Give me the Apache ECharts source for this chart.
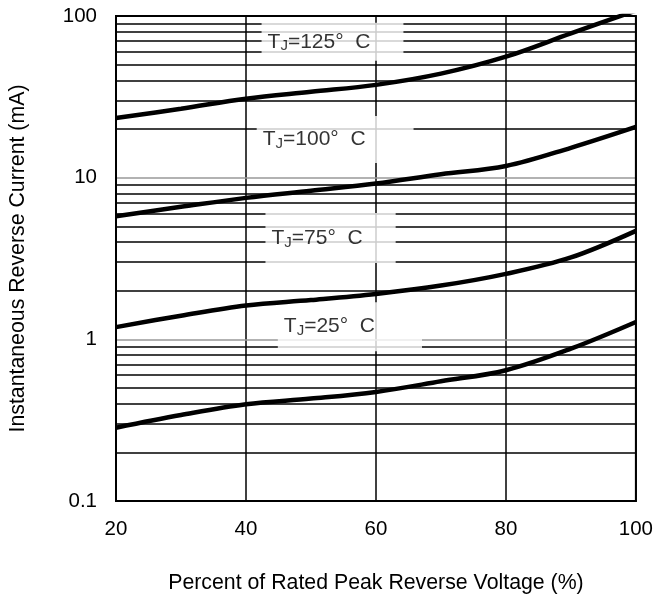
<!DOCTYPE html>
<html>
<head>
<meta charset="utf-8">
<script src="https://cdn.jsdelivr.net/npm/echarts@6/dist/echarts.min.js"></script>
<style>
html,body{margin:0;padding:0;background:#fff;}
#chart{width:656px;height:599px;}
</style>
</head>
<body>
<div id="chart"></div>
<script>
// ---- data ----
const voltagePct = [20, 30, 40, 50, 60, 70, 80, 90, 100];
const current125 = [23.4, 26.7, 30.8, 34.0, 37.5, 44, 56, 78, 108];
const current100 = [5.78, 6.6, 7.5, 8.3, 9.2, 10.5, 11.8, 15.3, 20.6];
const current75  = [1.19, 1.40, 1.62, 1.75, 1.91, 2.15, 2.54, 3.21, 4.69];
const current25  = [0.284, 0.34, 0.397, 0.43, 0.473, 0.55, 0.644, 0.875, 1.28];
const xTicks = [20, 40, 60, 80, 100];
const yTicks = [0.1, 1, 10, 100];
const minorGrid = [0.2,0.3,0.4,0.5,0.6,0.7,0.8,0.9, 2,3,4,5,6,7,8,9, 20,30,40,50,60,70,80,90];
const grayGrid = [1, 10];
const tempLabels = ['125', '100', '75', '25'];
const labelAnchorX = [42.4, 41.65, 43.0, 44.9];
const labelAnchorY = [69.2, 17.2, 4.23, 1.196];
const labelPadding = [[7,33,7,6],[11,48,12,6],[13,33,13,6],[12,47,13,6]];

const FONT = 'Liberation Sans, Arial, sans-serif';
const chart = echarts.init(document.getElementById('chart'));

function curve(name, vals) {
  return {
    name: name, type: 'line', z: 5, smooth: 0.35, showSymbol: false, clip: true,
    lineStyle: { color: '#000', width: 4.5 },
    data: voltagePct.map((x, i) => [x, vals[i]])
  };
}

const labelData = tempLabels.map((t, i) => ({
  value: [labelAnchorX[i], labelAnchorY[i]],
  label: {
    show: true, position: [0, 0], align: 'left', verticalAlign: 'middle',
    backgroundColor: '#fff', padding: labelPadding[i],
    formatter: '{t|T}{j|J}{t|=' + t + '\u00b0  C}',
    rich: {
      t: { fontFamily: FONT, fontSize: 21, color: '#000', lineHeight: 24 },
      j: { fontFamily: FONT, fontSize: 15, color: '#000', lineHeight: 24, verticalAlign: 'bottom' }
    }
  }
}));

chart.setOption({
  animation: false,
  backgroundColor: '#fff',
  grid: { left: 116, right: 19, top: 16, bottom: 96, show: true, borderColor: '#000', borderWidth: 2, backgroundColor: 'transparent', z: 10 },
  xAxis: {
    type: 'value', min: 20, max: 100, interval: 20,
    name: 'Percent of Rated Peak Reverse Voltage (%)', nameLocation: 'middle', nameGap: 72,
    nameTextStyle: { fontFamily: FONT, fontSize: 21.3, color: '#000' },
    axisLine: { show: true, lineStyle: { color: '#000', width: 2 } },
    axisTick: { show: false },
    axisLabel: { fontFamily: FONT, fontSize: 20.5, color: '#000', margin: 18 },
    splitLine: { show: true, lineStyle: { color: '#000', width: 1.5 } }
  },
  yAxis: {
    type: 'log', logBase: 10, min: 0.1, max: 100,
    name: 'Instantaneous Reverse Current (mA)', nameLocation: 'middle', nameGap: 87,
    nameTextStyle: { fontFamily: FONT, fontSize: 21.3, color: '#000' },
    axisLine: { show: true, lineStyle: { color: '#000', width: 2 } },
    axisTick: { show: false },
    axisLabel: { fontFamily: FONT, fontSize: 20.5, color: '#000', margin: 19,
      formatter: v => String(parseFloat(v.toPrecision(3))) },
    splitLine: { show: false }
  },
  series: [
    {
      name: 'grid', type: 'line', z: 1, data: [], silent: true,
      markLine: {
        z: 1, silent: true, symbol: 'none', animation: false,
        label: { show: false },
        data: minorGrid.map(v => ({ yAxis: v, lineStyle: { color: '#000', width: 1.5, type: 'solid' } }))
          .concat(grayGrid.map(v => ({ yAxis: v, lineStyle: { color: '#999', width: 1.5, type: 'solid' } })))
      }
    },
    {
      name: 'labels', type: 'scatter', z: 3, symbolSize: 0, silent: true,
      data: labelData
    },
    curve('125', current125),
    curve('100', current100),
    curve('75', current75),
    curve('25', current25)
  ]
});
</script>
</body>
</html>
